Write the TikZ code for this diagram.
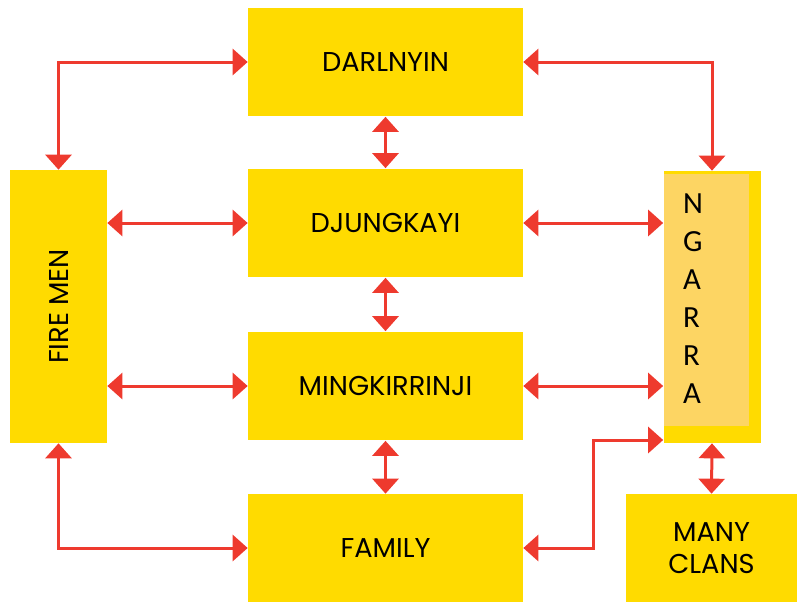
\documentclass[tikz,border=0pt]{standalone}
\usepackage{fontspec}
\usepackage{tikz}
\usetikzlibrary{arrows.meta}
\newfontfamily\boxfont{Poppins}
\newfontfamily\ngfont{Carlito}
\definecolor{boxyellow}{HTML}{FFDB00}
\definecolor{paleorange}{HTML}{FDD563}
\definecolor{linkred}{HTML}{EE3A2E}
\tikzset{
  box/.style={fill=boxyellow, inner sep=0pt, font=\boxfont\fontsize{15.5}{18.5}\selectfont, align=center},
  link/.style={{Triangle[width=0.52cm,length=0.3cm]}-{Triangle[width=0.52cm,length=0.3cm]}, linkred, line width=0.06cm}
}
\begin{document}
\begin{tikzpicture}[x=0.02cm,y=-0.02cm]
\useasboundingbox (0,0) rectangle (797,602);
\node[box, minimum width=5.5cm, minimum height=2.18cm] (dar) at (385.5,62) {DARLNYIN};
\node[box, minimum width=5.5cm, minimum height=2.18cm] (dju) at (385.5,223) {DJUNGKAYI};
\node[box, minimum width=5.5cm, minimum height=2.18cm] (min) at (385.5,386) {MINGKIRRINJI};
\node[box, minimum width=5.5cm, minimum height=2.16cm] (fam) at (385.5,548) {FAMILY};
\node[box, minimum width=1.94cm, minimum height=5.46cm] (fire) at (58.5,306.5) {};
\node[box, rotate=90] (firetext) at (fire.center) {FIRE MEN};
\node[box, minimum width=1.94cm, minimum height=5.44cm] (ngarra) at (712,307) {};
\node[fill=paleorange, inner sep=0pt, minimum width=1.7cm, minimum height=5.04cm] (inner) at (706.5,300) {};
\node[font=\ngfont\fontsize{17.5}{21.6}\selectfont, align=left] (ngtext) at (693,299) {N\\G\\A\\R\\R\\A};
\node[box, minimum width=3.42cm, minimum height=2.16cm] (clans) at (711.5,548) {MANY\\CLANS};
\coordinate (bend) at (593,440);

\draw[link] (dar.west) -| (fire.north);
\draw[link] (dar.east) -| (ngarra.north);
\draw[link] (dar.south) -- (dju.north);
\draw[link] (dju.south) -- (min.north);
\draw[link] (min.south) -- (fam.north);
\draw[link] (fire.east |- dju.west) -- (dju.west);
\draw[link] (fire.east |- min.west) -- (min.west);
\draw[link] (fire.south) |- (fam.west);
\draw[link] (dju.east) -- (dju.east -| ngarra.west);
\draw[link] (min.east) -- (min.east -| ngarra.west);
\draw[link] (fam.east) -| (bend) -- (bend -| ngarra.west);
\draw[link] (ngarra.south) -- (clans.north);
\end{tikzpicture}
\end{document}
